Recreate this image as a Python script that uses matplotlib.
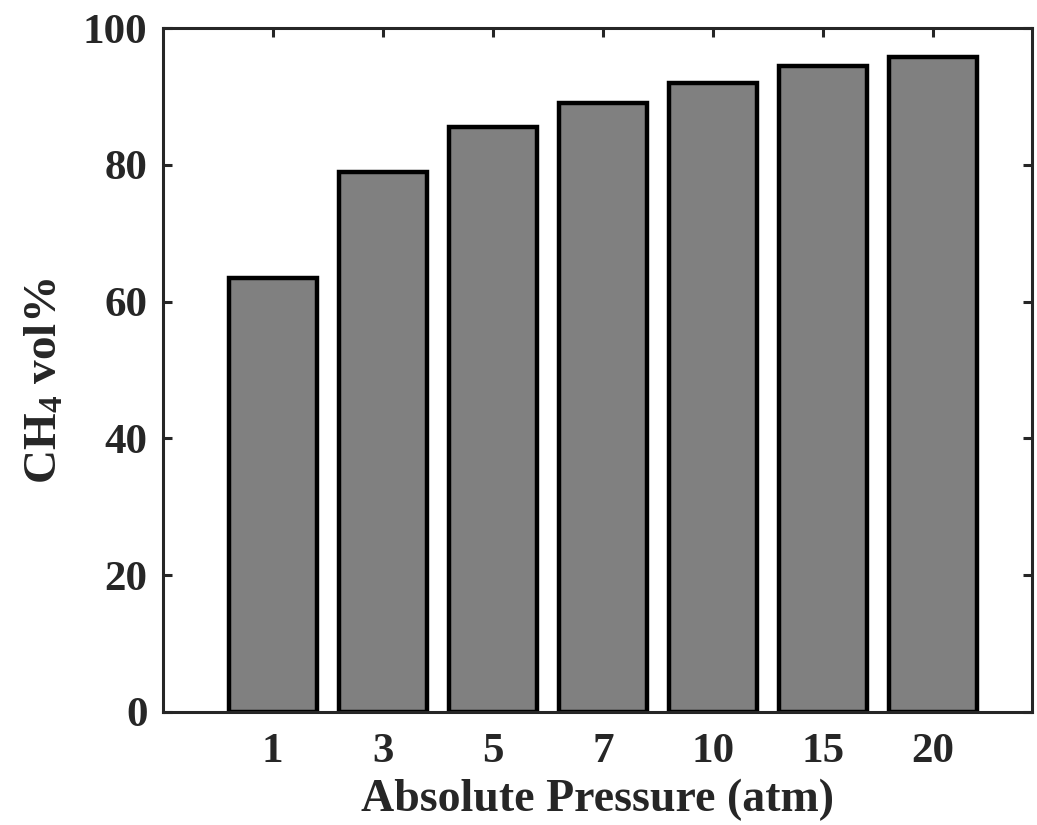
import matplotlib
matplotlib.use("Agg")
import matplotlib.pyplot as plt
import numpy as np

categories = ["1", "3", "5", "7", "10", "15", "20"]
ch4_vol = [63.5, 78.9, 85.5, 89.1, 92.0, 94.4, 95.7]
yticks = [0, 20, 40, 60, 80, 100]

plt.rcParams['font.family'] = ['Liberation Serif', 'DejaVu Serif']
plt.rcParams['font.weight'] = 'bold'
plt.rcParams['mathtext.fontset'] = 'custom'
plt.rcParams['mathtext.rm'] = 'Liberation Serif:bold'
plt.rcParams['mathtext.it'] = 'Liberation Serif:bold'
plt.rcParams['mathtext.bf'] = 'Liberation Serif:bold'
plt.rcParams['mathtext.default'] = 'bf'

fig = plt.figure(figsize=(10.37, 8.25), dpi=100)
ax = fig.add_axes([0.157, 0.137, 0.838, 0.829])

x = np.arange(1, len(categories) + 1)
ax.bar(x, ch4_vol, width=0.8, color='#808080', edgecolor='black', linewidth=3.2, zorder=2)

ax.set_xlim(0, 7.9)
ax.set_ylim(0, 100)
ax.set_xticks(x)
ax.set_xticklabels(categories)
ax.set_yticks(yticks)

axcol = '#262626'
for s in ax.spines.values():
    s.set_linewidth(2.2)
    s.set_color(axcol)
    s.set_zorder(3)

ax.tick_params(direction='in', length=6.5, width=2.2, color=axcol,
               top=True, right=True, labelsize=31, labelcolor='#262626')
ax.tick_params(axis='y', pad=11)
ax.tick_params(axis='x', pad=15)

ax.set_xlabel('Absolute Pressure (atm)', fontsize=33, fontweight='bold', color='#262626')
ax.set_ylabel('CH$_{4}$ vol%', fontsize=34, fontweight='bold', color='#262626')
ax.xaxis.set_label_coords(0.5, -0.098)
ax.yaxis.set_label_coords(-0.111, 0.484)

fig.savefig('out.png', dpi=100)
